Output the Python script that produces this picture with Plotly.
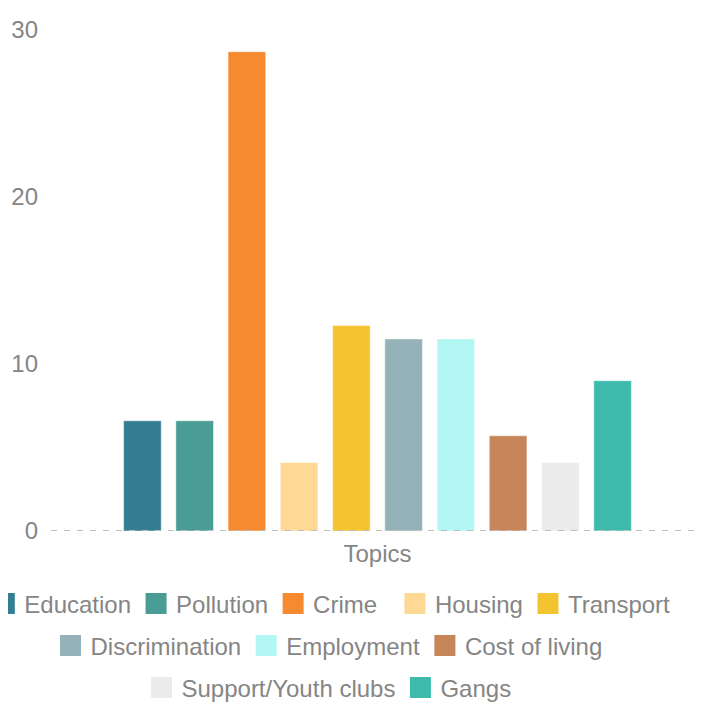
import plotly.graph_objects as go

categories = ["Education", "Pollution", "Crime", "Housing", "Transport",
              "Discrimination", "Employment", "Cost of living",
              "Support/Youth clubs", "Gangs"]
values = [6.6, 6.6, 28.7, 4.1, 12.3, 11.5, 11.5, 5.7, 4.1, 9.0]
colors = ["#347E93", "#499D95", "#F68A31", "#FDD995", "#F3C42F",
          "#94B2B7", "#B2F7F4", "#C7855A", "#EBEBEB", "#3EBAAC"]
group_label = "Topics"
y_ticks = [0, 10, 20, 30]
# which legend block each entry belongs to (row 1 is split in two blocks)
legend_blocks = ["legend", "legend", "legend", "legend4", "legend4",
                 "legend2", "legend2", "legend2", "legend3", "legend3"]

FONT = "Liberation Sans, Arial, sans-serif"
GRAY = "#858585"

fig = go.Figure()
for name, val, col in zip(categories, values, colors):
    fig.add_trace(go.Bar(
        x=[group_label], y=[val], name=name,
        marker=dict(color=col, line=dict(color="rgba(255,255,255,0.45)", width=1)),
        showlegend=False, hoverinfo="name+y",
    ))

for name, col, blk in zip(categories, colors, legend_blocks):
    fig.add_trace(go.Scatter(
        x=[None], y=[None], mode="markers", name=name,
        marker=dict(symbol="square", size=16, color=col, line=dict(color=col, width=5)),
        legend=blk, showlegend=True, hoverinfo="skip",
    ))

legend_common = dict(
    orientation="h", xref="container", yref="container",
    xanchor="center", yanchor="middle", itemsizing="trace",
    font=dict(family=FONT, size=24, color=GRAY), bgcolor="rgba(0,0,0,0)",
    itemclick=False, itemdoubleclick=False,
)

# the page adds an 8px body margin, so the figure is sized for the visible area
fig.update_layout(
    width=699, height=696,
    margin=dict(l=43, r=3, t=22, b=173, autoexpand=False),
    paper_bgcolor="white", plot_bgcolor="white",
    barmode="group", bargap=0.2, bargroupgap=0.28,
    font=dict(family=FONT, size=24, color=GRAY),
    xaxis=dict(showgrid=False, zeroline=False, showline=False, ticks="",
               automargin=False, ticklabelstandoff=6,
               tickfont=dict(size=24, color=GRAY)),
    yaxis=dict(range=[0, 30], tickvals=y_ticks, showgrid=False, zeroline=False,
               showline=False, ticks="", automargin=False, ticklabelstandoff=12,
               tickfont=dict(size=24, color=GRAY)),
    legend=dict(legend_common, x=0.2508, y=0.1437),
    legend4=dict(legend_common, x=0.7545, y=0.1437),
    legend2=dict(legend_common, x=0.4592, y=0.0833),
    legend3=dict(legend_common, x=0.4592, y=0.0230),
    shapes=[dict(type="line", xref="paper", x0=0, x1=1, yref="y", y0=0, y1=0,
                 line=dict(color="#BDBDBD", width=2, dash="6px,7px"), layer="above")],
)

fig.write_html("out.html")
